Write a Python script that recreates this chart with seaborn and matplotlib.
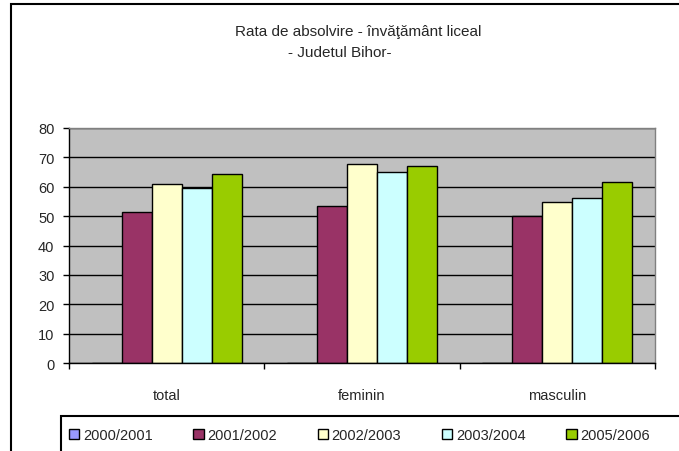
import pandas as pd
import matplotlib.pyplot as plt
import seaborn as sns
from matplotlib.patches import Rectangle

# date
categorii = ['total', 'feminin', 'masculin']
ani = ['2000/2001', '2001/2002', '2002/2003', '2003/2004', '2005/2006']
v_2000 = [0, 0, 0]
v_2001 = [51.3, 53.4, 50.0]
v_2002 = [61.0, 67.8, 54.7]
v_2003 = [59.5, 65.1, 56.2]
v_2005 = [64.4, 67.2, 61.7]
culori = ['#9999FF', '#993366', '#FFFFCC', '#CCFFFF', '#99CC00']


def build_frame():
    rows = []
    for an, vals in zip(ani, [v_2000, v_2001, v_2002, v_2003, v_2005]):
        for cat, v in zip(categorii, vals):
            rows.append({'categorie': cat, 'an': an, 'rata': v})
    return pd.DataFrame(rows)


df = build_frame()

sns.set_style('white')
plt.rcParams['font.family'] = ['Liberation Sans', 'DejaVu Sans']

fig = plt.figure(figsize=(6.79, 4.52), dpi=100)
ax = fig.add_axes([69 / 679, 1 - 364 / 452, (655 - 69) / 679, (364 - 129) / 452])

sns.barplot(data=df, x='categorie', y='rata', hue='an', hue_order=ani,
            palette=culori, width=5 / 6.5, gap=0, edgecolor='black',
            linewidth=1, ax=ax, errorbar=None, saturation=1)

handles, labels = ax.get_legend_handles_labels()
ax.get_legend().remove()

# fundal gri si grila
ax.set_facecolor('#C0C0C0')
ax.set_ylim(0, 80)
ax.set_xlim(-0.5, 2.5)
ax.set_yticks(range(0, 81, 10))
ax.yaxis.grid(True, color='black', linewidth=1)
ax.set_axisbelow(True)
ax.set_xlabel('')
ax.set_ylabel('')

for s in ['top', 'right']:
    ax.spines[s].set_color('#808080')
    ax.spines[s].set_linewidth(1)
for s in ['left', 'bottom']:
    ax.spines[s].set_color('black')
    ax.spines[s].set_linewidth(1)

ax.tick_params(axis='y', direction='out', length=4.5, width=1, color='black',
               labelsize=10.5, pad=6, left=True)
ax.set_xticks([0, 1, 2])
ax.set_xticklabels(categorii)
ax.set_xticks([-0.5, 0.5, 1.5, 2.5], minor=True)
ax.tick_params(axis='x', which='major', length=0, labelsize=10.5, pad=18)
ax.tick_params(axis='x', which='minor', direction='out', length=4.5, width=1,
               color='black', bottom=True)

# titlu
fig.text(358 / 679, 1 - 32 / 452, 'Rata de absolvire - învăţământ liceal',
         ha='center', va='center', fontsize=11)
fig.text(340 / 679, 1 - 53 / 452, '- Judetul Bihor-',
         ha='center', va='center', fontsize=11)

# chenar exterior si chenar legenda
fig.patches.append(Rectangle((11 / 679, -0.1), 1.2, 1.1 - 5 / 452,
                             transform=fig.transFigure, fill=False,
                             edgecolor='black', linewidth=1.5))
fig.patches.append(Rectangle((61 / 679, -0.1), 1.2, 0.1 + 1 - 417 / 452,
                             transform=fig.transFigure, fill=False,
                             edgecolor='black', linewidth=1.5))

fig.legend(handles, labels, loc='center left',
           bbox_to_anchor=(69 / 679, 1 - 436 / 452), ncol=5, frameon=False,
           fontsize=10.5, handlelength=0.7, handleheight=0.7, handletextpad=0.25,
           columnspacing=2.8, borderaxespad=0, borderpad=0)

fig.savefig('out.png', dpi=100)
